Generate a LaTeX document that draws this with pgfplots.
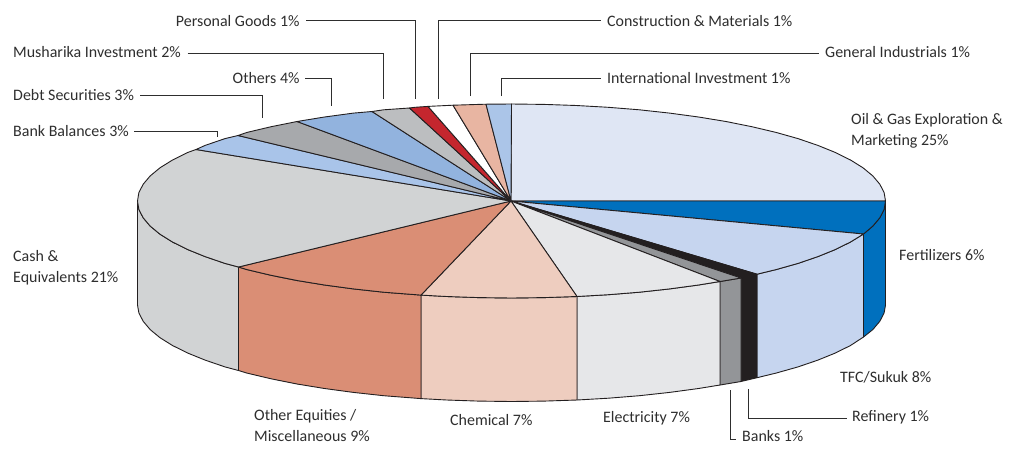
\documentclass[border=0pt]{standalone}
\usepackage{fontspec}
\setmainfont{Carlito}
\usepackage{pgfplots}
\pgfplotsset{compat=1.18}
\definecolor{cOil}{HTML}{DFE6F4}
\definecolor{cFert}{HTML}{0070BE}
\definecolor{cTFC}{HTML}{C6D5EF}
\definecolor{cRef}{HTML}{231F20}
\definecolor{cBanks}{HTML}{939598}
\definecolor{cElec}{HTML}{E6E7E9}
\definecolor{cChem}{HTML}{EECDBF}
\definecolor{cOther}{HTML}{DA8E75}
\definecolor{cCash}{HTML}{D1D3D4}
\definecolor{cBank}{HTML}{A9C4E9}
\definecolor{cDebt}{HTML}{A7A9AC}
\definecolor{cOthers}{HTML}{92B3DE}
\definecolor{cMush}{HTML}{BCBEC0}
\definecolor{cPers}{HTML}{C4262E}
\definecolor{cGen}{HTML}{E8B5A2}
\definecolor{cIntl}{HTML}{ABC5E8}
\definecolor{ctext}{HTML}{2E2E2E}
\tikzset{
  wedge/.style={draw=cRef, line width=0.9pt, fill=#1, line join=round},
  lead/.style={draw=ctext, line width=1pt},
  lab/.style={anchor=base west, inner sep=0pt, font=\fontsize{15.95pt}{17pt}\selectfont, text=ctext},
}
\begin{document}
\begin{tikzpicture}
\begin{axis}[
  scale only axis, width=1022pt, height=448pt,
  xmin=0, xmax=1022, ymin=0, ymax=448, y dir=reverse,
  hide axis, clip=false,
]
\path (rel axis cs:0,0) rectangle (rel axis cs:1,1);
% ---- side faces ----
\addplot[wedge=cFert] coordinates {(885.5,201)(884.1,209.5)(879.8,217.8)(872.8,226.1)(863.5,234)(863.5,337)(872.8,329.6)(879.8,321.3)(884.1,313)(885.5,305)} --cycle;
\addplot[wedge=cTFC] coordinates {(863.5,234)(850.5,242)(835.4,249.5)(817.9,256.6)(798,263.4)(776,269.6)(757,274.2)(757,377.7)(776,373.1)(798,366.9)(817.9,360.1)(835.4,353)(850.5,345.5)(863.5,337)} --cycle;
\addplot[wedge=cRef] coordinates {(757,274.2)(741,278)(741,381.5)(757,377.7)} --cycle;
\addplot[wedge=cBanks] coordinates {(741,278)(720,281.5)(720,385)(741,381.5)} --cycle;
\addplot[wedge=cElec] coordinates {(720,281.5)(698.5,285)(669.6,288.9)(639.4,292.2)(608.3,294.7)(577,296.5)(577,400)(608.3,398.2)(639.4,395.7)(669.6,392.4)(698.5,388.5)(720,385)} --cycle;
\addplot[wedge=cChem] coordinates {(577,296.5)(544.1,297.6)(511.5,298)(478.9,297.6)(446.6,296.5)(421,295.1)(421,398.6)(446.6,400)(478.9,401.1)(511.5,401.5)(544.1,401.1)(577,400)} --cycle;
\addplot[wedge=cOther] coordinates {(421,295.1)(383.6,292.2)(353.4,288.9)(324.5,285)(297,280.5)(271.1,275.3)(247,269.6)(238.5,267)(238.5,370.5)(247,373.1)(271.1,378.8)(297,384)(324.5,388.5)(353.4,392.4)(383.6,395.7)(421,398.6)} --cycle;
\addplot[wedge=cCash] coordinates {(238.5,267)(225,263.4)(205.1,256.6)(187.6,249.5)(172.5,242)(160,234.2)(150.2,226.1)(143.2,217.8)(138.9,209.5)(137.5,201)(137.5,305)(138.9,313)(143.2,321.3)(150.2,329.6)(160,337.7)(172.5,345.5)(187.6,353)(205.1,360.1)(225,366.9)(238.5,370.5)} --cycle;
% ---- top faces ----
\addplot[wedge=cOil] coordinates {(511,201)(511.5,104)(544.1,104.4)(576.4,105.5)(608.3,107.3)(639.4,109.8)(669.6,113.1)(698.5,117)(726,121.5)(751.9,126.7)(776,132.4)(798,138.6)(817.9,145.4)(835.4,152.5)(850.5,160)(863,167.8)(872.8,175.9)(879.8,184.2)(884.1,192.5)(885.5,201)} --cycle;
\addplot[wedge=cFert] coordinates {(511,201)(885.5,201)(884.1,209.5)(879.8,217.8)(872.8,226.1)(863.5,234)} --cycle;
\addplot[wedge=cTFC] coordinates {(511,201)(863.5,234)(850.5,242)(835.4,249.5)(817.9,256.6)(798,263.4)(776,269.6)(757,274.2)} --cycle;
\addplot[wedge=cRef] coordinates {(511,201)(757,274.2)(741,278)} --cycle;
\addplot[wedge=cBanks] coordinates {(511,201)(741,278)(720,281.5)} --cycle;
\addplot[wedge=cElec] coordinates {(511,201)(720,281.5)(698.5,285)(669.6,288.9)(639.4,292.2)(608.3,294.7)(577,296.5)} --cycle;
\addplot[wedge=cChem] coordinates {(511,201)(577,296.5)(544.1,297.6)(511.5,298)(478.9,297.6)(446.6,296.5)(421,295.1)} --cycle;
\addplot[wedge=cOther] coordinates {(511,201)(421,295.1)(383.6,292.2)(353.4,288.9)(324.5,285)(297,280.5)(271.1,275.3)(247,269.6)(238.5,267)} --cycle;
\addplot[wedge=cCash] coordinates {(511,201)(238.5,267)(225,263.4)(205.1,256.6)(187.6,249.5)(172.5,242)(160,234.2)(150.2,226.1)(143.2,217.8)(138.9,209.5)(137.5,201)(138.9,192.5)(143.2,184.2)(150.2,175.9)(160,167.8)(172.5,160)(187.6,152.5)(196,149.5)} --cycle;
\addplot[wedge=cBank] coordinates {(511,201)(196,149.5)(205.1,145.4)(225,138.6)(238,135.5)} --cycle;
\addplot[wedge=cDebt] coordinates {(511,201)(238,135.5)(247,132.4)(271.1,126.7)(297,121.5)} --cycle;
\addplot[wedge=cOthers] coordinates {(511,201)(297,121.5)(324.5,117)(353.4,113.1)(372,111.5)} --cycle;
\addplot[wedge=cMush] coordinates {(511,201)(372,111.5)(383.6,109.8)(409.5,108)} --cycle;
\addplot[wedge=cPers] coordinates {(511,201)(409.5,108)(414.7,107.3)(428,106.4)} --cycle;
\addplot[wedge=white] coordinates {(511,201)(428,106.4)(446.6,105.5)(453,105.2)} --cycle;
\addplot[wedge=cGen] coordinates {(511,201)(453,105.2)(478.9,104.4)(486,104.2)} --cycle;
\addplot[wedge=cIntl] coordinates {(511,201)(486,104.2)(511.5,104)} --cycle;
% ---- leader lines ----
\addplot[lead] coordinates {(306,20.7)(415.5,20.7)(415.5,99)};
\addplot[lead] coordinates {(438,99)(438,20.7)(601,20.7)};
\addplot[lead] coordinates {(187.7,53.7)(383.7,53.7)(383.7,99)};
\addplot[lead] coordinates {(470.3,96)(470.3,53.7)(819,53.7)};
\addplot[lead] coordinates {(305.3,78)(331,78)(331,106)};
\addplot[lead] coordinates {(501,96)(501,78)(601,78)};
\addplot[lead] coordinates {(140,95.3)(262.3,95.3)(262.3,118.3)};
\addplot[lead] coordinates {(134,131.3)(217,131.3)(217,137)};
\addplot[lead] coordinates {(748.3,389)(748.3,418.7)(846.7,418.7)};
\addplot[lead] coordinates {(730,390)(730,439.3)(736,439.3)};
% ---- labels ----
\node[lab] at (axis cs:175.7,26) {Personal Goods 1\%};
\node[lab] at (axis cs:13,57.3) {Musharika Investment 2\%};
\node[lab] at (axis cs:232.5,83) {Others 4\%};
\node[lab] at (axis cs:13,100) {Debt Securities 3\%};
\node[lab] at (axis cs:13,136) {Bank Balances 3\%};
\node[lab] at (axis cs:607,26) {Construction \& Materials 1\%};
\node[lab] at (axis cs:825,57.3) {General Industrials 1\%};
\node[lab] at (axis cs:607,83) {International Investment 1\%};
\node[lab] at (axis cs:851,124) {Oil \& Gas Exploration \&};
\node[lab] at (axis cs:851,145) {Marketing 25\%};
\node[lab] at (axis cs:899,260) {Fertilizers 6\%};
\node[lab] at (axis cs:840,382) {TFC/Sukuk 8\%};
\node[lab] at (axis cs:852,421.7) {Refinery 1\%};
\node[lab] at (axis cs:742,441.7) {Banks 1\%};
\node[lab] at (axis cs:603,422.3) {Electricity 7\%};
\node[lab] at (axis cs:450,425) {Chemical 7\%};
\node[lab] at (axis cs:254,420) {Other Equities /};
\node[lab] at (axis cs:254,441.7) {Miscellaneous 9\%};
\node[lab] at (axis cs:13,261.7) {Cash \&};
\node[lab] at (axis cs:13,282.3) {Equivalents 21\%};
\end{axis}
\end{tikzpicture}
\end{document}
